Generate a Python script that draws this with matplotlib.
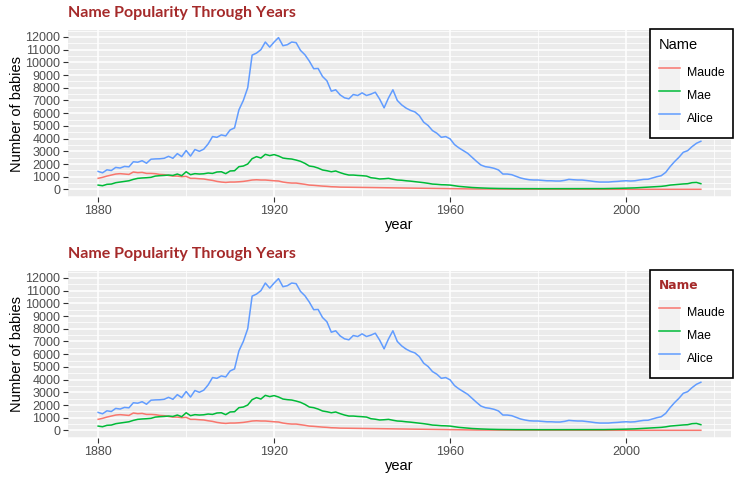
import matplotlib
matplotlib.use("Agg")
import matplotlib.pyplot as plt
from matplotlib.ticker import MultipleLocator, FixedLocator
from matplotlib.patches import Rectangle
from matplotlib.legend_handler import HandlerLine2D

years = list(range(1880, 2018))
names = ["Maude", "Mae", "Alice"]
colors = ["#F8766D", "#00BA38", "#619CFF"]

alice = [1414, 1308, 1542, 1488, 1732, 1682, 1811, 1778, 2176, 2142,
         2258, 2062, 2377, 2401, 2411, 2449, 2603, 2451, 2817, 2580,
         3063, 2624, 3142, 3000, 3165, 3580, 4160, 4100, 4290, 4210,
         4680, 4840, 6260, 7000, 8000, 10570, 10730, 11000, 11600, 11200,
         11600, 11950, 11310, 11390, 11600, 11550, 10940, 10600, 10100, 9500,
         9520, 8890, 8550, 7730, 7840, 7440, 7210, 7130, 7470, 7390,
         7600, 7390, 7500, 7650, 7100, 6420, 7200, 7840, 7000, 6650,
         6400, 6220, 6100, 5810, 5290, 5030, 4630, 4420, 4100, 4160,
         3980, 3530, 3270, 3050, 2840, 2520, 2210, 1920, 1790, 1740,
         1660, 1530, 1210, 1210, 1160, 1030, 900, 820, 760, 740,
         740, 710, 680, 680, 660, 660, 710, 790, 760, 740,
         740, 700, 660, 610, 580, 580, 580, 610, 630, 660,
         680, 660, 680, 740, 790, 800, 900, 1000, 1080, 1340,
         1790, 2180, 2520, 2920, 3050, 3370, 3630, 3790]

mae = [340, 290, 400, 420, 530, 580, 630, 680, 790, 870,
       900, 920, 950, 1050, 1080, 1100, 1130, 1100, 1210, 1080,
       1390, 1160, 1240, 1210, 1230, 1290, 1260, 1370, 1390, 1240,
       1450, 1470, 1790, 1840, 2000, 2420, 2580, 2470, 2760, 2660,
       2740, 2630, 2470, 2420, 2390, 2310, 2210, 2050, 1840, 1790,
       1680, 1530, 1470, 1390, 1450, 1320, 1210, 1130, 1130, 1100,
       1080, 1050, 920, 880, 820, 840, 870, 800, 740, 720,
       680, 650, 610, 570, 530, 480, 420, 400, 370, 360,
       340, 290, 240, 210, 180, 150, 130, 115, 100, 90,
       80, 75, 70, 65, 65, 62, 60, 60, 60, 58,
       58, 58, 58, 58, 58, 58, 60, 60, 60, 60,
       62, 62, 62, 62, 65, 65, 70, 75, 80, 90,
       100, 110, 120, 140, 160, 180, 200, 220, 240, 280,
       340, 370, 400, 430, 450, 530, 550, 450]

maude = [870, 950, 1050, 1130, 1210, 1240, 1210, 1180, 1370, 1320,
         1340, 1260, 1260, 1240, 1180, 1160, 1100, 1050, 1050, 1000,
         1030, 870, 870, 840, 820, 760, 710, 630, 580, 550,
         580, 580, 600, 630, 680, 740, 760, 740, 740, 710,
         680, 660, 580, 530, 500, 500, 450, 400, 340, 320,
         290, 260, 240, 210, 200, 180, 175, 170, 165, 160,
         160, 150, 145, 140, 135, 130, 125, 120, 110, 105,
         100, 95, 90, 85, 80, 80, 75, 70, 65, 60,
         55, 50, 45, 40, 38, 35, 32, 30, 28, 26,
         25, 24, 23, 22, 21, 20, 20, 19, 18, 18,
         17, 17, 16, 16, 15, 15, 15, 14, 14, 14,
         13, 13, 13, 12, 12, 12, 12, 11, 11, 11,
         11, 10, 10, 10, 10, 10, 10, 10, 10, 10,
         10, 10, 10, 10, 10, 10, 10, 10]

series = [maude, mae, alice]
x_ticks = [1880, 1920, 1960, 2000]
x_minor = [1900, 1940, 1980, 2020]
y_ticks = list(range(0, 12001, 1000))
title_text = "Name Popularity Through Years"
x_label = "year"
y_label = "Number of babies"
legend_title = "Name"

TITLE_COLOR = "#a52a2a"
BASE_FONT = ["Liberation Sans", "DejaVu Sans"]
plt.rcParams["font.family"] = BASE_FONT


class KeyHandler(HandlerLine2D):
    def create_artists(self, legend, orig_handle, xdescent, ydescent,
                       width, height, fontsize, trans):
        bg = Rectangle((-xdescent, -ydescent - 0.5), width, height + 1.0,
                       facecolor="#f2f2f2", edgecolor="none", transform=trans)
        arts = super().create_artists(legend, orig_handle, xdescent, ydescent,
                                      width, height, fontsize, trans)
        return [bg] + list(arts)


fig = plt.figure(figsize=(7.4, 4.82), dpi=100)
W, H = 740.0, 482.0
panels = [(30, 197, False), (271, 438, True)]

for top_px, bot_px, styled in panels:
    ax = fig.add_axes([68 / W, 1 - bot_px / H, (731 - 68) / W, (bot_px - top_px) / H])
    ax.set_facecolor("#ebebeb")
    for s in ax.spines.values():
        s.set_visible(False)
    handles = []
    for name, vals, col in zip(names, series, colors):
        ln, = ax.plot(years, vals, color=col, lw=1.1, label=name, zorder=3)
        handles.append(ln)
    xr = years[-1] - years[0]
    ax.set_xlim(years[0] - 0.05 * xr, years[-1] + 0.05 * xr)
    allv = maude + mae + alice
    ymax = max(allv)
    yr = ymax - 0
    ax.set_ylim(0 - 0.05 * yr, ymax + 0.05 * yr)
    ax.xaxis.set_major_locator(FixedLocator(x_ticks))
    ax.xaxis.set_minor_locator(FixedLocator(x_minor))
    ax.yaxis.set_major_locator(FixedLocator(y_ticks))
    ax.yaxis.set_minor_locator(MultipleLocator(500))
    ax.set_xticklabels([str(t) for t in x_ticks])
    ax.set_yticklabels([str(t) for t in y_ticks])
    ax.grid(which="major", color="white", lw=1.1, zorder=0)
    ax.grid(which="minor", color="white", lw=0.55, zorder=0)
    ax.set_axisbelow(True)
    ax.tick_params(which="major", length=3.5, width=0.8, color="#333333",
                   labelcolor="#4d4d4d", labelsize=9, pad=2)
    ax.tick_params(which="minor", length=0)
    ax.set_xlabel(x_label, fontsize=10.5, color="black")
    ax.xaxis.set_label_coords(0.5, -0.125)
    ax.set_ylabel(y_label, fontsize=10.5, color="black")
    ax.yaxis.set_label_coords(-0.066, 0.5)

    leg = ax.legend(handles=handles, loc="upper right", bbox_to_anchor=(1.003, 1.006),
                    borderaxespad=0, frameon=True, fancybox=False, framealpha=1,
                    edgecolor="black", facecolor="white", fontsize=8.8,
                    title=legend_title, title_fontsize=10.5, alignment="left",
                    handlelength=1.75, handleheight=2.5, labelspacing=0,
                    handletextpad=0.5, borderpad=0.72,
                    handler_map={matplotlib.lines.Line2D: KeyHandler()})
    leg._legend_box.sep = 6.5
    leg.get_frame().set_linewidth(1.2)
    if styled:
        leg.get_title().set_color(TITLE_COLOR)
        leg.get_title().set_fontweight("bold")
        leg.get_title().set_family("DejaVu Sans")
        leg.get_title().set_fontsize(8.8)

    fig.text(68 / W, 1 - (top_px - 17) / H, title_text, fontsize=11.5,
             fontweight="bold", color=TITLE_COLOR, family=["Lato", "DejaVu Sans"],
             ha="left", va="center")

fig.savefig("out.png", dpi=100)
